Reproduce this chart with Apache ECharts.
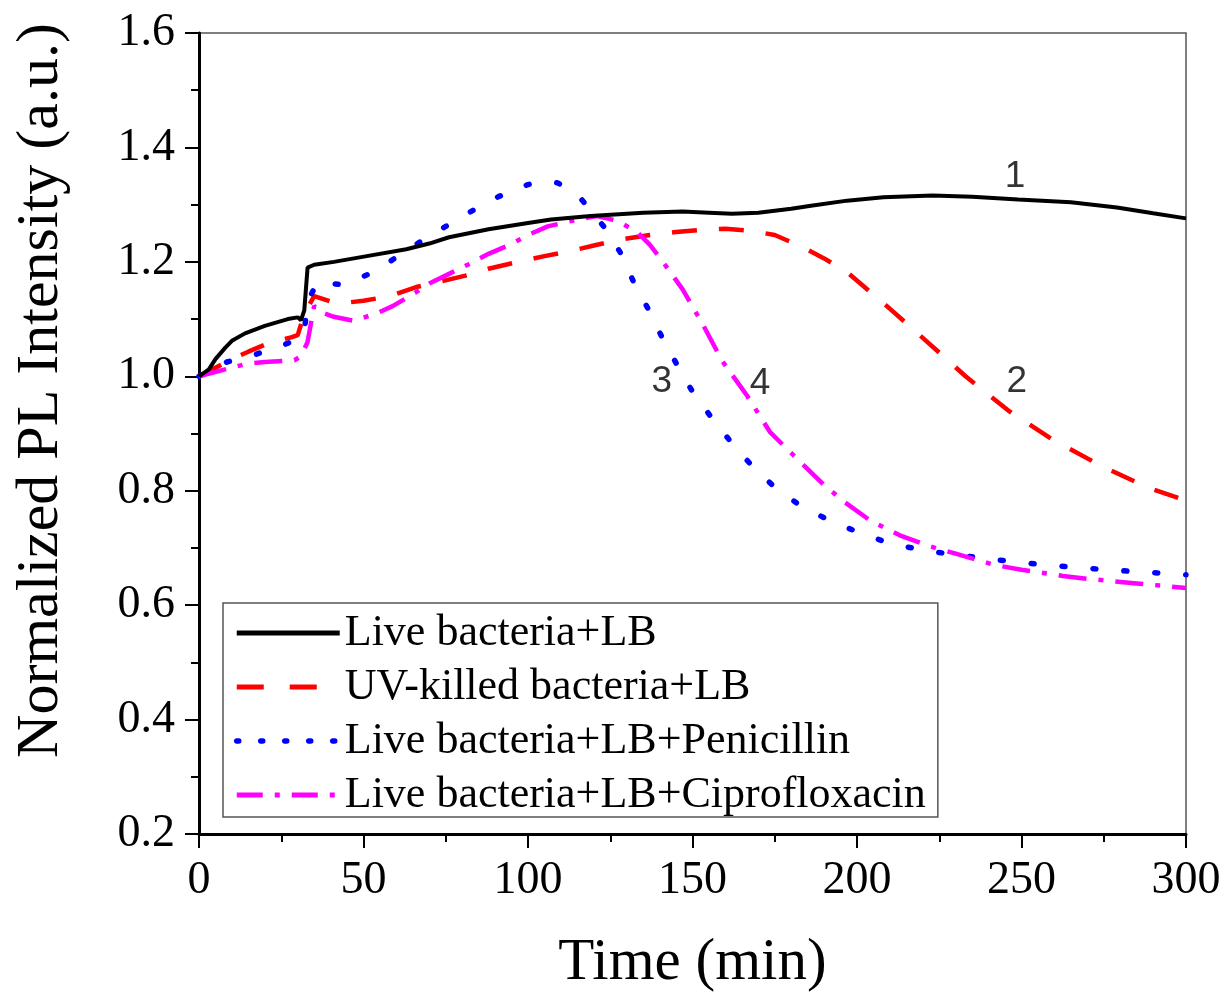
<!DOCTYPE html>
<html>
<head>
<meta charset="utf-8">
<script src="https://cdn.jsdelivr.net/npm/echarts@6/dist/echarts.min.js"></script>
<style>html,body{margin:0;padding:0;background:#fff}#c{width:1227px;height:998px}</style>
</head>
<body>
<div id="c"></div>
<script>
// ---- data ----
const seriesNames = ['Live bacteria+LB', 'UV-killed bacteria+LB', 'Live bacteria+LB+Penicillin', 'Live bacteria+LB+Ciprofloxacin'];

const liveTime = [0, 3, 5, 8, 10, 14, 20, 27, 30, 31, 32, 33, 35, 41, 51, 63, 70, 76, 88, 100, 107, 119, 135, 147, 155, 162, 170, 180, 186, 197, 208, 223, 235, 249, 265, 279, 290, 300];
const liveValues = [1.0, 1.012, 1.03, 1.05, 1.062, 1.075, 1.088, 1.1, 1.103, 1.098, 1.115, 1.19, 1.195, 1.2, 1.21, 1.222, 1.232, 1.243, 1.257, 1.268, 1.274, 1.28, 1.286, 1.288, 1.286, 1.284, 1.286, 1.293, 1.298, 1.307, 1.313, 1.316, 1.314, 1.309, 1.304, 1.295, 1.285, 1.276];

const uvTime = [0, 5, 10, 15, 22, 28, 30, 32, 35, 42, 50, 58, 66, 73, 81, 88, 97, 105, 113, 121, 129, 137, 145, 153, 160, 168, 175, 183, 190, 197, 209, 221, 233, 246, 259, 274, 289, 300];
const uvValues = [1.0, 1.015, 1.03, 1.043, 1.06, 1.068, 1.072, 1.109, 1.14, 1.127, 1.132, 1.14, 1.156, 1.165, 1.176, 1.188, 1.2, 1.21, 1.219, 1.23, 1.24, 1.247, 1.252, 1.256, 1.258, 1.254, 1.247, 1.227, 1.206, 1.182, 1.123, 1.062, 1.0, 0.94, 0.891, 0.844, 0.804, 0.783];

const penTime = [0, 4, 8.5, 16, 25, 30, 32, 33, 36, 40, 44, 53, 60, 68, 75, 82, 91, 100, 105, 109, 113, 116, 119, 123, 128, 132, 136.5, 141, 145.5, 150, 156, 162, 168, 175, 183, 192, 201, 210, 220, 230, 240, 249, 260, 278, 287, 300];
const penValues = [1.0, 1.01, 1.025, 1.036, 1.053, 1.065, 1.078, 1.13, 1.165, 1.162, 1.16, 1.182, 1.208, 1.238, 1.262, 1.286, 1.314, 1.335, 1.341, 1.338, 1.326, 1.311, 1.29, 1.262, 1.217, 1.166, 1.118, 1.065, 1.018, 0.973, 0.926, 0.883, 0.844, 0.806, 0.773, 0.747, 0.726, 0.708, 0.696, 0.688, 0.681, 0.675, 0.669, 0.661, 0.658, 0.653];

const ciproTime = [0, 8.5, 14.6, 20, 29, 31, 33, 35, 37, 41, 47, 54, 59, 66, 70, 76, 82, 88, 94.5, 100, 106, 115, 121, 127, 133, 137, 141, 147, 153, 159, 166.6, 173.5, 179.6, 190, 196, 204, 213, 222, 230, 242, 250, 262.6, 270, 285, 300];
const ciproValues = [1.0, 1.013, 1.022, 1.025, 1.028, 1.035, 1.06, 1.123, 1.112, 1.104, 1.097, 1.11, 1.123, 1.147, 1.162, 1.179, 1.196, 1.214, 1.23, 1.247, 1.262, 1.274, 1.28, 1.272, 1.253, 1.23, 1.2, 1.152, 1.092, 1.027, 0.966, 0.903, 0.868, 0.81, 0.781, 0.748, 0.722, 0.703, 0.69, 0.67, 0.662, 0.651, 0.646, 0.638, 0.63];

const curveLabelText = ['1', '2', '3', '4'];
const curveLabelTime = [248, 248.6, 140.7, 170.5];
const curveLabelValue = [1.349, 0.99, 0.99, 0.987];

const xTicks = [0, 50, 100, 150, 200, 250, 300];
const yTicks = [0.2, 0.4, 0.6, 0.8, 1.0, 1.2, 1.4, 1.6];

// ---- styles ----
const zip = (t, v) => t.map((x, i) => [x, v[i]]);
const serif = 'Liberation Serif';
const lineStyles = [
  {color: '#000000', width: 4, type: 'solid'},
  {color: '#ff0000', width: 4.5, type: [25, 22], cap: 'butt'},
  {color: '#0000ff', width: 5.5, type: [3, 28], cap: 'round'},
  {color: '#ff00ff', width: 4.5, type: [28, 12, 5, 12], cap: 'butt'}
];
const legendLineStyles = [
  {color: '#000000', width: 5, type: 'solid'},
  {color: '#ff0000', width: 5, type: [27, 26], cap: 'butt'},
  {color: '#0000ff', width: 5.5, type: [2, 22], cap: 'round'},
  {color: '#ff00ff', width: 5, type: [26, 12, 5, 12], cap: 'butt'}
];
const data = [zip(liveTime, liveValues), zip(uvTime, uvValues), zip(penTime, penValues), zip(ciproTime, ciproValues)];

const chart = echarts.init(document.getElementById('c'), null, {renderer: 'canvas'});
chart.setOption({
  animation: false,
  backgroundColor: '#fff',
  grid: {left: 199, right: 41, top: 33, bottom: 161, show: true, borderColor: '#555', borderWidth: 1.5},
  xAxis: {
    type: 'value', min: xTicks[0], max: xTicks[xTicks.length - 1], interval: 50,
    name: 'Time (min)', nameLocation: 'middle', nameGap: 100,
    nameTextStyle: {fontFamily: serif, fontSize: 59, color: '#000'},
    axisLine: {show: true, lineStyle: {color: '#000', width: 3}},
    axisTick: {show: true, inside: false, length: 14, lineStyle: {color: '#000', width: 2}},
    minorTick: {show: true, splitNumber: 2, length: 8, lineStyle: {color: '#000', width: 2}},
    splitLine: {show: false},
    axisLabel: {fontFamily: serif, fontSize: 46, color: '#000', margin: 24}
  },
  yAxis: {
    type: 'value', min: yTicks[0], max: yTicks[yTicks.length - 1], interval: 0.2,
    name: 'Normalized PL Intensity (a.u.)', nameLocation: 'middle', nameGap: 128,
    nameTextStyle: {fontFamily: serif, fontSize: 60, color: '#000', padding: [0, 0, 0, 86]},
    axisLine: {show: true, lineStyle: {color: '#000', width: 3}},
    axisTick: {show: true, inside: false, length: 14, lineStyle: {color: '#000', width: 2}},
    minorTick: {show: true, splitNumber: 2, length: 8, lineStyle: {color: '#000', width: 2}},
    splitLine: {show: false},
    axisLabel: {fontFamily: serif, fontSize: 46, color: '#000', margin: 24,
      formatter: v => v.toFixed(1)}
  },
  legend: {
    data: seriesNames.map((n, i) => ({name: n, lineStyle: legendLineStyles[i], itemStyle: {opacity: 0}})),
    orient: 'vertical', left: 223, top: 603,
    backgroundColor: '#fff', borderColor: '#555', borderWidth: 1.5,
    padding: [8, 12, 0, 11], itemGap: 10, itemWidth: 103, itemHeight: 14,
    itemStyle: {opacity: 0},
    textStyle: {fontFamily: serif, fontSize: 44, color: '#000', lineHeight: 42},
    selectedMode: false
  },
  series: seriesNames.map((n, i) => ({
    name: n, type: 'line', data: data[i], showSymbol: false, symbol: 'none',
    color: lineStyles[i].color, lineStyle: lineStyles[i], z: i === 0 ? 4 : 3
  })).concat([
    {name: 'labels', type: 'scatter', symbolSize: 1, itemStyle: {color: 'rgba(0,0,0,0)'},
     data: curveLabelTime.map((t, i) => ({value: [t, curveLabelValue[i]], name: curveLabelText[i]})),
     label: {show: true, position: 'inside', formatter: p => p.name,
       fontFamily: 'Liberation Sans', fontSize: 37, color: '#000'}, z: 5}
  ])
});
</script>
</body>
</html>
